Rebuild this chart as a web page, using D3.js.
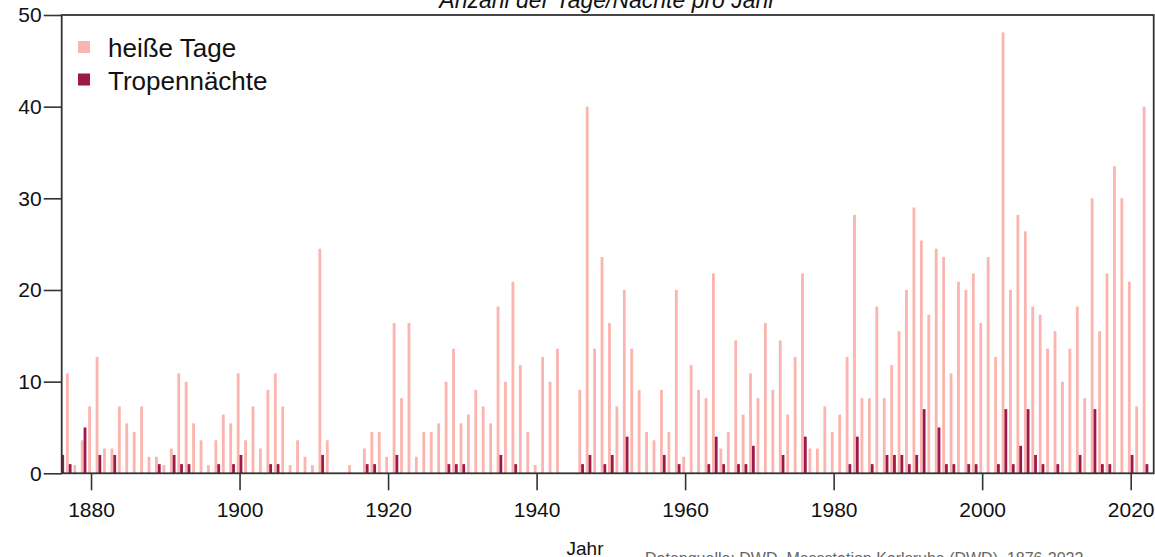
<!DOCTYPE html>
<html>
<head>
<meta charset="utf-8">
<script src="https://cdn.jsdelivr.net/npm/d3@7"></script>
<style>
  body { margin: 0; background: #fff; }
  svg { font-family: "Liberation Sans", Arial, sans-serif; }
</style>
</head>
<body>
<script>
// Jahre 1876 - 2022
const years = d3.range(1876, 2023);

// heiße Tage (1876 liegt hinter der y-Achse)
const heisseTage = [
  9, 10.9, 0.9, 3.6, 7.3, 12.7, 2.7, 2.7, 7.3, 5.45,
  4.5, 7.3, 1.8, 1.8, 0.9, 2.7, 10.9, 10, 5.45, 3.6,
  0.9, 3.6, 6.4, 5.45, 10.9, 3.6, 7.3, 2.7, 9.1, 10.9,
  7.3, 0.9, 3.6, 1.8, 0.9, 24.5, 3.6, 0, 0, 0.9,
  0, 2.7, 4.5, 4.5, 1.8, 16.4, 8.2, 16.4, 1.8, 4.5,
  4.5, 5.45, 10, 13.6, 5.45, 6.4, 9.1, 7.3, 5.45, 18.2,
  10, 20.9, 11.8, 4.5, 0.9, 12.7, 10, 13.6, 0, 0,
  9.1, 40, 13.6, 23.6, 16.4, 7.3, 20, 13.6, 9.1, 4.5,
  3.6, 9.1, 4.5, 20, 1.8, 11.8, 9.1, 8.2, 21.8, 2.7,
  4.5, 14.5, 6.4, 10.9, 8.2, 16.4, 9.1, 14.5, 6.4, 12.7,
  21.8, 2.7, 2.7, 7.3, 4.5, 6.4, 12.7, 28.2, 8.2, 8.2,
  18.2, 8.2, 11.8, 15.5, 20, 29, 25.4, 17.3, 24.5, 23.6,
  10.9, 20.9, 20, 21.8, 16.4, 23.6, 12.7, 48.1, 20, 28.2,
  26.4, 18.2, 17.3, 13.6, 15.5, 10, 13.6, 18.2, 8.2, 30,
  15.5, 21.8, 33.5, 30, 20.9, 7.3, 40
];

// Tropennächte
const tropennaechte = [
  2, 1, 0, 5, 0, 2, 0, 2, 0, 0,
  0, 0, 0, 1, 0, 2, 1, 1, 0, 0,
  0, 1, 0, 1, 2, 0, 0, 0, 1, 1,
  0, 0, 0, 0, 0, 2, 0, 0, 0, 0,
  0, 1, 1, 0, 0, 2, 0, 0, 0, 0,
  0, 0, 1, 1, 1, 0, 0, 0, 0, 2,
  0, 1, 0, 0, 0, 0, 0, 0, 0, 0,
  1, 2, 0, 1, 2, 0, 4, 0, 0, 0,
  0, 2, 0, 1, 0, 0, 0, 1, 4, 1,
  0, 1, 1, 3, 0, 0, 0, 2, 0, 0,
  4, 0, 0, 0, 0, 0, 1, 4, 0, 1,
  0, 2, 2, 2, 1, 2, 7, 0, 5, 1,
  1, 0, 1, 1, 0, 0, 1, 7, 1, 3,
  7, 2, 1, 0, 1, 0, 0, 2, 0, 7,
  1, 1, 0, 0, 2, 0, 1
];

const xTicks = [1880, 1900, 1920, 1940, 1960, 1980, 2000, 2020];
const yTicks = [0, 10, 20, 30, 40, 50];

const serien = ["heiße Tage", "Tropennächte"];
const farben = ["#fbb4ae", "#9c1a4b"];

const W = 1155, H = 557;
const plotLeft = 61.7, plotRight = 1153.7, plotTop = 15, plotBottom = 473.3;

const x = d3.scaleLinear().domain([1876.05, 2023.1]).range([plotLeft, plotRight]);
const y = d3.scaleLinear().domain([0, 50]).range([plotBottom, plotTop]);
const barW = 2.8;

const data = years.map((yr, i) => ({ year: yr, heiss: heisseTage[i], tropen: tropennaechte[i] }));

const svg = d3.select("body").append("svg")
  .attr("width", W)
  .attr("height", H);

svg.append("clipPath").attr("id", "plotclip")
  .append("rect")
  .attr("x", plotLeft).attr("y", plotTop)
  .attr("width", plotRight - plotLeft).attr("height", plotBottom - plotTop);

const bars = svg.append("g").attr("clip-path", "url(#plotclip)");

// heiße Tage, links neben der Jahresmitte
bars.selectAll("rect.heiss")
  .data(data)
  .enter()
  .append("rect")
  .attr("class", "heiss")
  .attr("x", d => x(d.year) - barW)
  .attr("width", barW)
  .attr("y", d => y(d.heiss))
  .attr("height", d => y(0) - y(d.heiss))
  .attr("fill", farben[0]);

// Tropennächte, rechts daneben
bars.selectAll("rect.tropen")
  .data(data.filter(d => d.tropen > 0))
  .enter()
  .append("rect")
  .attr("class", "tropen")
  .attr("x", d => x(d.year))
  .attr("width", barW)
  .attr("y", d => y(d.tropen))
  .attr("height", d => y(0) - y(d.tropen))
  .attr("fill", farben[1]);

// Achsen
const yAxis = svg.append("g")
  .attr("transform", `translate(${plotLeft},0)`)
  .call(d3.axisLeft(y).tickValues(yTicks).tickSize(18).tickPadding(2));

const xAxis = svg.append("g")
  .attr("transform", `translate(0,${plotBottom})`)
  .call(d3.axisBottom(x).tickValues(xTicks).tickFormat(d3.format("d")).tickSize(17).tickPadding(12));

[yAxis, xAxis].forEach(a => {
  a.select(".domain").remove();
  a.selectAll("line").attr("stroke", "#333").attr("stroke-width", 1.6);
  a.selectAll("text").attr("fill", "#111").style("font-size", "21px");
});

// Rahmen
svg.append("rect")
  .attr("x", plotLeft).attr("y", plotTop)
  .attr("width", plotRight - plotLeft).attr("height", plotBottom - plotTop)
  .attr("fill", "none")
  .attr("stroke", "#333")
  .attr("stroke-width", 1.8);

// Titel (oben abgeschnitten)
svg.append("text")
  .attr("x", (plotLeft + plotRight) / 2)
  .attr("y", 8)
  .attr("text-anchor", "middle")
  .style("font-size", "23px")
  .style("font-style", "italic")
  .attr("fill", "#111")
  .text("Anzahl der Tage/Nächte pro Jahr");

// Achsentitel
svg.append("text")
  .attr("x", 585)
  .attr("y", 555)
  .attr("text-anchor", "middle")
  .style("font-size", "19px")
  .attr("fill", "#111")
  .text("Jahr");

// Quelle (unten abgeschnitten)
svg.append("text")
  .attr("x", 645)
  .attr("y", 564)
  .style("font-size", "16px")
  .attr("fill", "#666")
  .text("Datenquelle: DWD, Messstation Karlsruhe (DWD), 1876-2022");

// Legende
const legend = svg.append("g").attr("transform", "translate(78,41)");
serien.forEach((s, i) => {
  const g = legend.append("g").attr("transform", `translate(0,${i * 32.5})`);
  g.append("rect").attr("width", 12).attr("height", 12).attr("fill", farben[i]);
  g.append("text")
    .attr("x", 30)
    .attr("y", 16)
    .style("font-size", "26px")
    .attr("fill", "#111")
    .text(s);
});
</script>
</body>
</html>
